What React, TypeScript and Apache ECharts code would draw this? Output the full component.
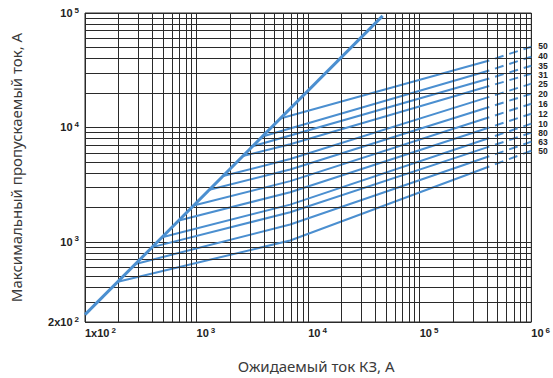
import React, { useEffect, useRef } from 'react';
import * as echarts from 'echarts';

// Axis extents (A)
const xMin = 100;
const xMax = 1000000;
const yMin = 200;
const yMax = 100000;

// Unlimited peak current line (prospective -> peak)
const diagX = [100, 46500];
const diagY = [232, 94400];

// Fuse ratings, top to bottom (labels as visible at the right edge)
const fuseLabels = ['50', '40', '35', '31', '25', '20', '16', '12', '10', '80', '63', '50'];
const labelShift = [-1, -1, 0, 1, 0, 0, 0, 0, 0, 0, 0, 0];
const startX = [5620, 3900, 3185, 2600, 1730, 1303, 941, 693, 491, 401, 284, 197];
const startY = [11970, 8356, 6855, 5623, 3767, 2858, 2080, 1542, 1099, 902, 643, 450];
const kinkX = 6900;
const kinkY = [null, null, null, 7150, 5300, 4300, 3400, 2720, 2120, 1820, 1420, 1030];
const breakX = 420000;
const breakY = [38500, 31500, 26800, 23000, 18500, 15100, 12280, 10000, 8100, 6800, 5600, 4560];
const endX = 1000000;
const endY = [50800, 41500, 34650, 29500, 24140, 19740, 16140, 13200, 10800, 9010, 7520, 6270];

const BLUE = '#4b8fd0';
const GRID = '#2a2a2a';

function minorValues(min: number, max: number): number[] {
  const out: number[] = [];
  for (let e = 2; e <= 6; e++) {
    for (let m = 2; m <= 9; m++) {
      const v = m * Math.pow(10, e);
      if (v > min && v < max) out.push(v);
    }
  }
  return out;
}

function fmt(v: number, isX: boolean): string {
  const e = Math.floor(Math.log10(v) + 1e-6);
  const m = Math.round(v / Math.pow(10, e));
  const first = isX ? Math.abs(v - xMin) < 1 : Math.abs(v - yMin) < 1;
  const base = m !== 1 || first ? `${m}x10` : '10';
  return `{b|${base}}{s|${e}}`;
}

const rich = {
  b: { fontSize: 11, fontWeight: 'bold', fontFamily: 'Liberation Sans', color: '#222' },
  s: { fontSize: 8, fontWeight: 'bold', fontFamily: 'Liberation Sans', color: '#222', padding: [0, 0, 6, 2], verticalAlign: 'bottom' },
};

export default function App() {
  const ref = useRef<HTMLDivElement>(null);
  useEffect(() => {
    const chart = echarts.init(ref.current!, null, { renderer: 'svg' });
    const series: any[] = [];
    series.push({
      type: 'line',
      data: [],
      z: 1,
      silent: true,
      markLine: {
        silent: true,
        symbol: 'none',
        animation: false,
        label: { show: false },
        lineStyle: { color: GRID, width: 1, type: 'solid' },
        data: [
          ...minorValues(xMin, xMax).map((v) => ({ xAxis: v })),
          ...minorValues(yMin, yMax).map((v) => ({ yAxis: v })),
        ],
      },
    });
    series.push({
      type: 'line',
      data: diagX.map((x, i) => [x, diagY[i]]),
      showSymbol: false,
      symbol: 'none',
      z: 5,
      lineStyle: { color: BLUE, width: 3 },
    });
    fuseLabels.forEach((lab, i) => {
      const pts: number[][] = [[startX[i], startY[i]]];
      if (kinkY[i] !== null) pts.push([kinkX, kinkY[i] as number]);
      pts.push([breakX, breakY[i]]);
      series.push({
        type: 'line',
        data: pts,
        symbol: 'none',
        z: 4,
        lineStyle: { color: BLUE, width: 2 },
      });
      series.push({
        type: 'line',
        name: lab,
        data: [[breakX, breakY[i]], [endX, endY[i]]],
        symbol: 'none',
        z: 4,
        lineStyle: { color: BLUE, width: 2, type: [9, 6], dashOffset: 9 },
        endLabel: {
          show: true,
          formatter: lab,
          distance: 7,
          offset: [0, labelShift[i]],
          fontSize: 8.5,
          lineHeight: 7,
          fontWeight: 'bold',
          fontFamily: 'Liberation Sans',
          color: '#222',
        },
      });
    });

    chart.setOption({
      animation: false,
      backgroundColor: '#fff',
      grid: {
        left: 82,
        top: 13,
        width: 453,
        height: 309,
        show: true,
        borderColor: GRID,
        borderWidth: 1,
        containLabel: false,
      },
      xAxis: {
        type: 'log',
        logBase: 10,
        min: xMin,
        max: xMax,
        name: 'Ожидаемый ток КЗ, А',
        nameLocation: 'middle',
        nameGap: 36,
        nameTextStyle: { fontSize: 15, fontFamily: 'Noto Sans', color: '#3a3a3a', padding: [0, 0, 0, 16] },
        axisLine: { show: false },
        axisTick: { show: false },
        axisLabel: { formatter: (v: number) => fmt(v, true), rich, margin: 4, align: 'left', showMinLabel: true, showMaxLabel: true },
        splitLine: { show: true, lineStyle: { color: GRID, width: 1 } },
      },
      yAxis: {
        type: 'log',
        logBase: 10,
        min: yMin,
        max: yMax,
        name: 'Максимальный пропускаемый ток, А',
        nameLocation: 'middle',
        nameRotate: 90,
        nameGap: 62,
        nameTextStyle: { fontSize: 15, fontFamily: 'Noto Sans', color: '#3a3a3a' },
        axisLine: { show: false },
        axisTick: { show: false },
        axisLabel: { formatter: (v: number) => fmt(v, false), rich, margin: 6, showMinLabel: true, showMaxLabel: true },
        splitLine: { show: true, lineStyle: { color: GRID, width: 1 } },
      },
      series,
    });
    return () => chart.dispose();
  }, []);
  return (
    <div
      ref={ref}
      style={{ position: 'absolute', left: 0, top: 0, width: 553, height: 378, background: '#fff' }}
    />
  );
}
